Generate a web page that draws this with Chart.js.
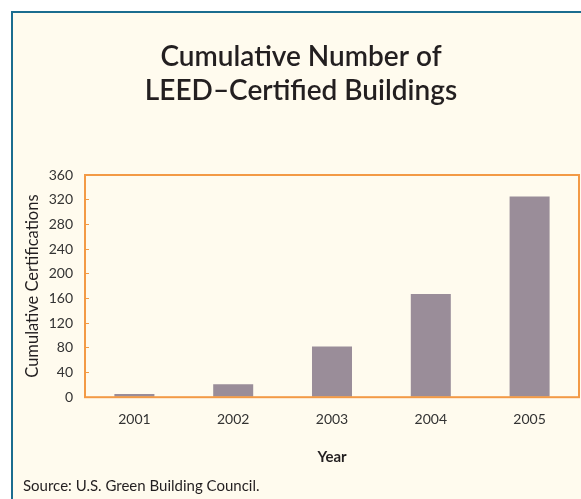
<!DOCTYPE html>
<html>
<head>
<meta charset="utf-8">
<script src="https://cdn.jsdelivr.net/npm/chart.js@4"></script>
<style>
    html, body { margin: 0; padding: 0; background: #ffffff; }
    body { width: 581px; height: 499px; position: relative; overflow: hidden; }
    .frame {
        position: absolute; left: 11px; top: 11px; width: 600px; height: 520px;
        background: #fffbee;
        border-left: 2px solid #1b6d8f;
        border-top: 2px solid #1b6d8f;
    }
    #chart { position: absolute; left: 0; top: 0; }
</style>
</head>
<body>
<div class="frame"></div>
<canvas id="chart" width="581" height="499"></canvas>
<script>
    // Chart data
    const years = ['2001', '2002', '2003', '2004', '2005'];
    const certifications = [5, 21, 82, 167, 325];
    const yTicks = [0, 40, 80, 120, 160, 200, 240, 280, 320, 360];

    const titleLines = ['Cumulative Number of', 'LEED–Certified Buildings'];
    const sourceNote = 'Source: U.S. Green Building Council.';

    const ORANGE = '#f39a45';
    const TEXT = '#231f20';

    // Orange box round the plot area
    const plotBorder = {
        id: 'plotBorder',
        afterDatasetsDraw(chart) {
            const { ctx, chartArea: a } = chart;
            ctx.save();
            ctx.strokeStyle = ORANGE;
            ctx.lineWidth = 2;
            ctx.strokeRect(a.left, a.top, a.right - a.left, a.bottom - a.top);
            ctx.restore();
        }
    };

    new Chart(document.getElementById('chart').getContext('2d'), {
        type: 'bar',
        data: {
            labels: years,
            datasets: [{
                data: certifications,
                backgroundColor: '#9a8d99',
                categoryPercentage: 1,
                barPercentage: 0.405
            }]
        },
        options: {
            responsive: false,
            animation: false,
            layout: { padding: { left: 23, right: 2, top: 0, bottom: 0 } },
            plugins: {
                legend: { display: false },
                tooltip: { enabled: false },
                title: {
                    display: true,
                    text: titleLines,
                    color: TEXT,
                    font: { family: 'Lato', size: 28, weight: '600', lineHeight: 34 / 28 },
                    padding: { top: 40, bottom: 67 }
                },
                subtitle: {
                    display: true,
                    position: 'bottom',
                    align: 'start',
                    text: sourceNote,
                    color: TEXT,
                    font: { family: 'Lato', size: 15, weight: 'normal' },
                    padding: { top: 7, bottom: 4 }
                }
            },
            scales: {
                x: {
                    grid: { display: false, drawTicks: false },
                    border: { display: false },
                    ticks: { color: '#333333', padding: 14, font: { family: 'Lato', size: 14 } },
                    title: {
                        display: true,
                        text: 'Year',
                        color: TEXT,
                        font: { family: 'Lato', size: 15, weight: 'bold' },
                        padding: { top: 6, bottom: 4 }
                    }
                },
                y: {
                    min: 0,
                    max: 360,
                    afterBuildTicks: (scale) => {
                        scale.ticks = yTicks.map(v => ({ value: v }));
                    },
                    afterFit: (scale) => { scale.width = 62; },
                    grid: {
                        display: true,
                        drawOnChartArea: false,
                        drawTicks: true,
                        tickLength: -4,
                        color: ORANGE,
                        lineWidth: 1
                    },
                    border: { display: false },
                    ticks: { color: '#333333', padding: 16, font: { family: 'Lato', size: 14 } },
                    title: {
                        display: true,
                        text: 'Cumulative Certifications',
                        color: TEXT,
                        font: { family: 'Lato', size: 16.5 },
                        padding: { top: 0, bottom: 0 }
                    }
                }
            }
        },
        plugins: [plotBorder]
    });
</script>
</body>
</html>
